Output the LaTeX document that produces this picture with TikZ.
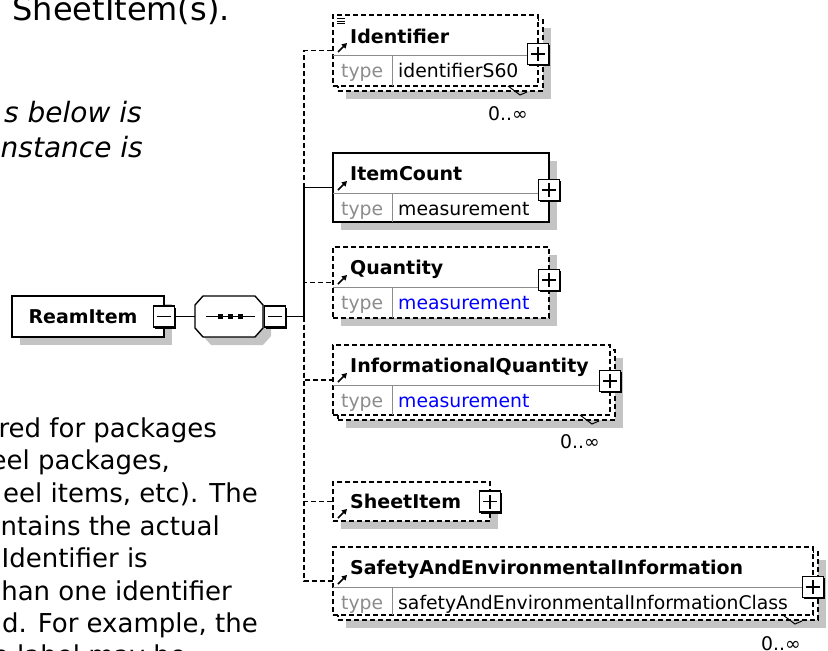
\documentclass[tikz,border=0pt]{standalone}
\usepackage{fontspec}
\setmainfont{DejaVu Sans}[ItalicFont={DejaVu Sans Oblique},BoldFont={DejaVu Sans Bold}]
\usetikzlibrary{positioning, arrows.meta, shadows, calc}
\definecolor{shade}{HTML}{C4C4C4}
\definecolor{rule}{HTML}{8C8C8C}
\definecolor{typeblue}{HTML}{0000FF}
\tikzset{
  elem/.style={rectangle, draw, fill=white, line width=1.4pt, inner sep=0pt, outer sep=0pt,
               anchor=north west, minimum height=71pt},
  single/.style={drop shadow={shadow xshift=8pt, shadow yshift=-8pt, fill=shade, opacity=1}},
  multi/.style={drop shadow={shadow xshift=13pt, shadow yshift=-13pt, fill=shade, opacity=1},
                general shadow={shadow xshift=5pt, shadow yshift=-5pt, fill=white, draw=black,
                                line width=1.4pt, dash pattern=on 5pt off 3pt}},
  optional/.style={dash pattern=on 5pt off 3pt},
  seqarea/.style={rectangle, inner sep=0pt, outer sep=0pt, minimum width=68pt, minimum height=41pt},
  seqline/.style={draw, fill=white, line width=1.4pt, single},
  expbox/.style={rectangle, draw, fill=white, line width=1.3pt, minimum size=21pt, inner sep=0pt,
                 drop shadow={shadow xshift=1.5pt, shadow yshift=-1.5pt, fill=black, opacity=1}},
  plusbox/.style={expbox, path picture={
      \draw[line width=1.3pt] ([xshift=3.5pt]path picture bounding box.west) -- ([xshift=-3.5pt]path picture bounding box.east)
                              ([yshift=-3.5pt]path picture bounding box.north) -- ([yshift=3.5pt]path picture bounding box.south);}},
  minusbox/.style={expbox, path picture={
      \draw[line width=1.3pt] ([xshift=3.5pt]path picture bounding box.west) -- ([xshift=-3.5pt]path picture bounding box.east);}},
  link/.style={line width=1.4pt},
  refarrow/.style={-{Triangle[length=5pt, width=5.5pt]}, line width=1.6pt},
  rowline/.style={draw=rule, line width=1pt},
  elname/.style={font=\fontsize{19}{22}\selectfont\bfseries, anchor=base west, inner sep=0pt},
  typelbl/.style={font=\fontsize{18.8}{22}\selectfont, text=rule, anchor=base west, inner sep=0pt},
  typeval/.style={font=\fontsize{18.8}{22}\selectfont, anchor=base west, inner sep=0pt},
  occurs/.style={font=\fontsize{18.8}{22}\selectfont, anchor=base east, inner sep=0pt},
  headtext/.style={font=\fontsize{32}{38}\selectfont, anchor=base east, inner sep=0pt},
  notetext/.style={font=\fontsize{28}{35}\selectfont\itshape, anchor=base east, inner sep=0pt},
  bodytext/.style={font=\fontsize{26}{32}\selectfont, anchor=base east, inner sep=0pt},
}
\begin{document}
\begin{tikzpicture}[x=1pt, y=-1pt]
  \useasboundingbox (0,0) rectangle (828,651);
  \clip (0,0) rectangle (828,651);
  % page text, cut at the left edge
  \node[headtext] (head)  at (230,20)  {SheetItem(s).};
  \node[notetext] (note1) at (142,122) {s below is};
  \node[notetext] (note2) at (143,157) {nstance is};
  \node[bodytext] (body1) at (217,437) {red for packages};
  \node[bodytext] (body2) at (170,469) {eel packages,};
  \node[bodytext] (body3) at (258,502) {eel items, etc). The};
  \node[bodytext] (body4) at (220,535) {ntains the actual};
  \node[bodytext] (body5) at (148,567) {Identifier is};
  \node[bodytext] (body6) at (232,600) {han one identifier};
  \node[bodytext] (body7) at (258,632) {d. For example, the};
  \node[bodytext] (body8) at (186,664) {e label may be};

  % root and sequence
  \node[elem, single, minimum width=152pt, minimum height=41pt] (ream) at (12,296) {};
  \node[elname, anchor=base] (reamname) at (83,323) {ReamItem};
  \node[minusbox] (reamminus) at (ream.east) {};
  \node[seqarea] (seq) at (229,316.5) {};
  \draw[seqline] ([xshift=8pt]seq.north west) -- ([xshift=-8pt]seq.north east)
    -- ([yshift=-9pt]seq.north east) -- ([yshift=9pt]seq.south east)
    -- ([xshift=-8pt]seq.south east) -- ([xshift=8pt]seq.south west)
    -- ([yshift=9pt]seq.south west) -- ([yshift=-9pt]seq.north west) -- cycle;
  \draw[link] ($(seq.center)+(-23,0)$) -- ($(seq.center)+(26,0)$);
  \fill ($(seq.center)+(-11,-2.5)$) rectangle ++(5,5);
  \fill ($(seq.center)+(-1,-2.5)$) rectangle ++(5,5);
  \fill ($(seq.center)+(9,-2.5)$) rectangle ++(5,5);
  \node[minusbox, anchor=west] (seqminus) at ($(seq.east)+(1,0)$) {};
  \coordinate (trunk) at (304,316.5);

  % children
  \node[elem, multi, optional, minimum width=205pt] (ident) at (333,15) {};
  \node[elem, single, minimum width=216pt, minimum height=69pt] (count) at (333,153) {};
  \node[elem, single, optional, minimum width=216pt] (qty) at (333,247) {};
  \node[elem, multi, optional, minimum width=277pt, minimum height=70pt] (infoqty) at (333,345) {};
  \node[elem, single, optional, minimum width=157pt, minimum height=39pt] (sheet) at (333,482) {};
  \node[elem, multi, optional, minimum width=480pt, minimum height=68pt] (safety) at (333,547) {};

  % type rows
  \draw[rowline] ($(ident.north west)+(0,40)$) -- ($(ident.north east)+(0,40)$);
  \draw[rowline] ($(ident.north west)+(59,40)$) -- ($(ident.south west)+(59,0)$);
  \draw[rowline] ($(count.north west)+(0,40)$) -- ($(count.north east)+(0,40)$);
  \draw[rowline] ($(count.north west)+(59,40)$) -- ($(count.south west)+(59,0)$);
  \draw[rowline] ($(qty.north west)+(0,40)$) -- ($(qty.north east)+(0,40)$);
  \draw[rowline] ($(qty.north west)+(59,40)$) -- ($(qty.south west)+(59,0)$);
  \draw[rowline] ($(infoqty.north west)+(0,40)$) -- ($(infoqty.north east)+(0,40)$);
  \draw[rowline] ($(infoqty.north west)+(59,40)$) -- ($(infoqty.south west)+(59,0)$);
  \draw[rowline] ($(safety.north west)+(0,40)$) -- ($(safety.north east)+(0,40)$);
  \draw[rowline] ($(safety.north west)+(59,40)$) -- ($(safety.south west)+(59,0)$);

  % labels
  \node[elname] (identname) at ($(ident.north west)+(17,28)$) {Identifier};
  \node[typelbl] (identtype) at ($(ident.north west)+(8,62)$) {type};
  \node[typeval] (identval) at ($(ident.north west)+(65,62)$) {identifierS60};
  \node[elname] (countname) at ($(count.north west)+(17,27)$) {ItemCount};
  \node[typelbl] (counttype) at ($(count.north west)+(8,62)$) {type};
  \node[typeval] (countval) at ($(count.north west)+(65,62)$) {measurement};
  \node[elname] (qtyname) at ($(qty.north west)+(17,27)$) {Quantity};
  \node[typelbl] (qtytype) at ($(qty.north west)+(8,62)$) {type};
  \node[typeval, text=typeblue] (qtyval) at ($(qty.north west)+(65,62)$) {measurement};
  \node[elname] (infoqtyname) at ($(infoqty.north west)+(17,27)$) {InformationalQuantity};
  \node[typelbl] (infoqtytype) at ($(infoqty.north west)+(8,62)$) {type};
  \node[typeval, text=typeblue] (infoqtyval) at ($(infoqty.north west)+(65,62)$) {measurement};
  \node[elname] (sheetname) at ($(sheet.north west)+(17,26)$) {SheetItem};
  \node[elname] (safetyname) at ($(safety.north west)+(17,27)$) {SafetyAndEnvironmentalInformation};
  \node[typelbl] (safetytype) at ($(safety.north west)+(8,62)$) {type};
  \node[typeval] (safetyval) at ($(safety.north west)+(65,62)$) {safetyAndEnvironmentalInformationClass};

  % occurrence marks
  \draw[line width=1pt] ($(ident.south east)+(-30,0)$) -- ++(12,9) -- ++(7,-3);
  \draw[line width=1pt] ($(infoqty.south east)+(-30,0)$) -- ++(12,9) -- ++(7,-3);
  \draw[line width=1pt] ($(safety.south east)+(-30,0)$) -- ++(12,9) -- ++(7,-3);
  \node[occurs] (identocc) at ($(ident.south east)+(-10,34)$) {0..∞};
  \node[occurs] (infoqtyocc) at ($(infoqty.south east)+(-10,33)$) {0..∞};
  \node[occurs] (safetyocc) at ($(safety.south east)+(-12,35)$) {0..∞};

  % icons
  \draw[line width=0.9pt] ($(ident.north west)+(4,3.5)$) -- ++(8,0)
                          ($(ident.north west)+(4,6)$) -- ++(8,0)
                          ($(ident.north west)+(4,8.5)$) -- ++(8,0);
  \draw[refarrow] ($(ident.north west)+(5,37)$) -- ++(9,-9);
  \draw[refarrow] ($(count.north west)+(5,37)$) -- ++(9,-9);
  \draw[refarrow] ($(qty.north west)+(5,37)$) -- ++(9,-9);
  \draw[refarrow] ($(infoqty.north west)+(5,37)$) -- ++(9,-9);
  \draw[refarrow] ($(sheet.south west)+(5,-3)$) -- ++(9,-9);
  \draw[refarrow] ($(safety.north west)+(5,37)$) -- ++(9,-9);

  % expand boxes
  \node[plusbox] (identplus) at ($(ident.north east)+(0,39)$) {};
  \node[plusbox] (countplus) at ($(count.north east)+(0,37)$) {};
  \node[plusbox] (qtyplus) at ($(qty.north east)+(0,33)$) {};
  \node[plusbox] (infoqtyplus) at ($(infoqty.north east)+(0,36)$) {};
  \node[plusbox] (sheetplus) at (sheet.east) {};
  \node[plusbox] (safetyplus) at ($(safety.north east)+(0,40)$) {};

  % connectors
  \draw[link] (reamminus) -- (seq);
  \draw[link] (seqminus) -- (trunk);
  \draw[link] (trunk) |- (count.west);
  \draw[link, optional] (trunk |- count.west) |- (ident.west);
  \draw[link, optional] (trunk) |- (qty.west);
  \draw[link, optional] (trunk) |- (infoqty.west);
  \draw[link, optional] (trunk) |- (sheet.west);
  \draw[link, optional] (trunk) |- (safety.west);
\end{tikzpicture}
\end{document}
